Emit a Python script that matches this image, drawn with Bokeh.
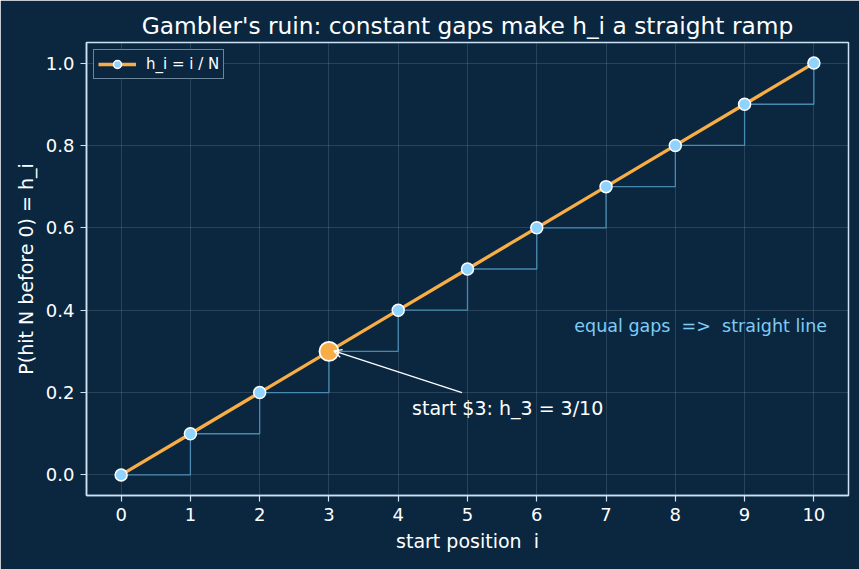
from bokeh.plotting import figure
from bokeh.models import (ColumnDataSource, FixedTicker, NumeralTickFormatter, Legend, LegendItem,
                          Arrow, OpenHead, Label, Range1d)
from bokeh.embed import file_html
from bokeh.resources import INLINE

# ---- data ----
positions = [0, 1, 2, 3, 4, 5, 6, 7, 8, 9, 10]
h_values = [0.0, 0.1, 0.2, 0.3, 0.4, 0.5, 0.6, 0.7, 0.8, 0.9, 1.0]
highlight_i = [3]
highlight_h = [0.3]
x_ticks = [0, 1, 2, 3, 4, 5, 6, 7, 8, 9, 10]
y_ticks = [0.0, 0.2, 0.4, 0.6, 0.8, 1.0]

BG = "#0b2740"
FG = "#ffffff"
SPINE = "#cde3f3"
ORANGE = "#f8ad45"
LBLUE = "#8fd3fe"
STEP = "#4f93bb"
FONT = "DejaVu Sans"
NB = "\u00a0"

p = figure(width=859, height=569, output_backend="svg", toolbar_location=None,
           x_range=Range1d(-0.5, 10.5), y_range=Range1d(-0.05, 1.05),
           min_border_left=86, min_border_right=11, min_border_top=42, min_border_bottom=74,
           title="Gambler's ruin: constant gaps make h_i a straight ramp")

p.background_fill_color = BG
p.border_fill_color = BG
p.outline_line_color = SPINE
p.outline_line_width = 1.5

p.title.text_color = FG
p.title.text_font = FONT
p.title.text_font_size = "23.3px"
p.title.text_font_style = "normal"
p.title.align = "center"
p.title.offset = 0
p.title.standoff = 8

for ax in (p.xaxis[0], p.yaxis[0]):
    ax.axis_line_color = SPINE
    ax.axis_line_width = 1.5
    ax.major_tick_line_color = SPINE
    ax.major_tick_line_width = 1.2
    ax.major_tick_out = 6
    ax.major_tick_in = 0
    ax.minor_tick_line_color = None
    ax.major_label_text_color = FG
    ax.major_label_text_font = FONT
    ax.major_label_text_font_size = "18px"
    ax.axis_label_text_color = FG
    ax.axis_label_text_font = FONT
    ax.axis_label_text_font_size = "19px"
    ax.axis_label_text_font_style = "normal"
    ax.major_label_standoff = 6
    ax.axis_label_standoff = 6

p.xaxis[0].ticker = FixedTicker(ticks=x_ticks)
p.yaxis[0].ticker = FixedTicker(ticks=y_ticks)
p.yaxis[0].formatter = NumeralTickFormatter(format="0.0")
p.xaxis.axis_label = "start position" + NB + " i"
p.yaxis.axis_label = "P(hit N before 0) = h_i"

p.xgrid.ticker = FixedTicker(ticks=x_ticks)
p.ygrid.ticker = FixedTicker(ticks=y_ticks)
p.grid.grid_line_color = "#ffffff"
p.grid.grid_line_alpha = 0.16
p.grid.grid_line_width = 0.8

src = ColumnDataSource(dict(x=positions, y=h_values))

p.step("x", "y", source=src, mode="after", line_color=STEP, line_width=1.3, line_alpha=0.9)
ln = p.line("x", "y", source=src, line_color=ORANGE, line_width=3.3)
pts = p.scatter("x", "y", source=src, size=12, fill_color=LBLUE, line_color="#ffffff", line_width=1.5)
p.scatter(highlight_i, highlight_h, size=19, fill_color=ORANGE, line_color="#ffffff", line_width=1.8)

p.add_layout(Arrow(end=OpenHead(size=8, line_color="#ffffff", line_width=1.3),
                   x_start=4.92, y_start=0.2, x_end=3.07, y_end=0.301,
                   line_color="#ffffff", line_width=1.3))
p.add_layout(Label(x=4.2, y=0.163, text="start $3: h_3 = 3/10", text_color=FG,
                   text_font=FONT, text_font_size="19px", text_baseline="middle",
                   text_align="left"))
p.add_layout(Label(x=10.19, y=0.362, text="equal gaps " + NB + "=> " + NB + "straight line",
                   text_color="#7fcbf5",
                   text_font=FONT, text_font_size="17.5px", text_baseline="middle",
                   text_align="right"))

legend = Legend(items=[LegendItem(label="h_i = i / N", renderers=[ln, pts])],
                location="top_left")
legend.background_fill_color = BG
legend.background_fill_alpha = 1.0
legend.border_line_color = SPINE
legend.border_line_width = 1.2
legend.label_text_color = FG
legend.label_text_font = FONT
legend.label_text_font_size = "15px"
legend.glyph_width = 38
legend.glyph_height = 20
legend.padding = 4
legend.spacing = 0
legend.margin = 7
legend.label_standoff = 10
p.add_layout(legend)

open("out.html", "w").write(file_html(p, INLINE))
